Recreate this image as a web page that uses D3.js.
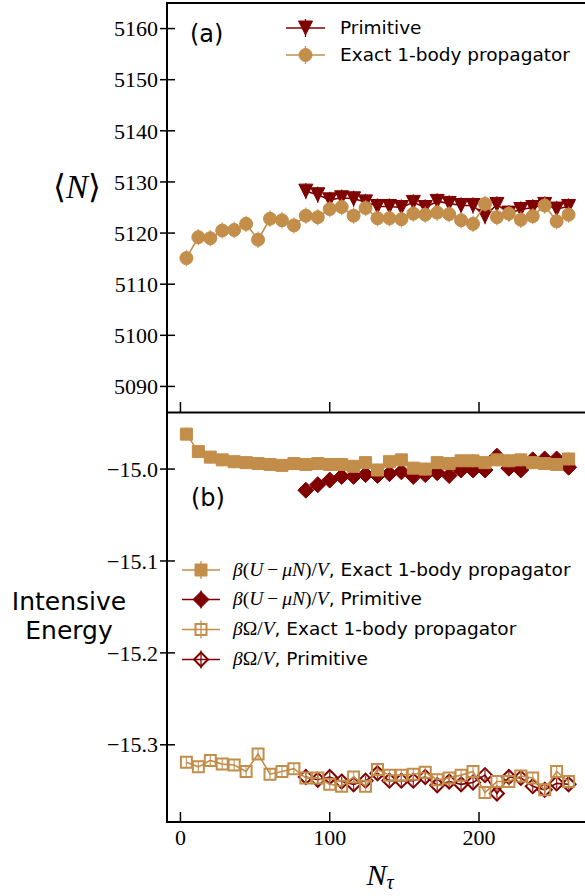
<!DOCTYPE html>
<html><head><meta charset="utf-8">
<script src="https://cdn.jsdelivr.net/npm/d3@7/dist/d3.min.js"></script>
<style>body{margin:0;background:#fff}svg{display:block}</style>
</head><body>
<script>
// ---------- data ----------
const nTauExact = [4,12,20,28,36,44,52,60,68,76,84,92,100,108,116,124,132,140,148,156,164,172,180,188,196,204,212,220,228,236,244,252,260];
const nTauPrim = [84,92,100,108,116,124,132,140,148,156,164,172,180,188,196,204,212,220,228,236,244,252,260];
const nExact = [5115.1,5119.2,5119.0,5120.5,5120.6,5121.8,5118.7,5122.8,5122.5,5121.5,5123.4,5123.1,5124.7,5125.1,5123.4,5124.9,5122.9,5122.9,5122.7,5123.8,5123.6,5124.0,5123.7,5122.5,5121.8,5125.7,5123.1,5123.8,5122.6,5123.3,5125.4,5122.3,5123.6];
const nPrim = [5128.2,5127.5,5126.5,5126.9,5126.7,5126.1,5125.2,5125.2,5125.0,5126.0,5125.0,5126.2,5125.8,5125.4,5125.4,5123.3,5125.6,5123.9,5124.6,5125.0,5125.6,5124.7,5125.2];
const uExact = [-14.962,-14.981,-14.987,-14.990,-14.992,-14.993,-14.994,-14.995,-14.996,-14.994,-14.995,-14.994,-14.995,-14.995,-14.997,-14.993,-15.001,-14.992,-14.990,-14.999,-15.000,-14.993,-14.994,-14.991,-14.991,-14.993,-14.990,-14.991,-14.990,-14.993,-14.994,-14.995,-14.989];
const uPrim = [-15.023,-15.017,-15.012,-15.008,-15.008,-15.006,-15.007,-15.005,-15.003,-15.008,-15.006,-15.004,-15.007,-15.001,-15.001,-15.001,-14.986,-14.999,-15.001,-14.990,-14.989,-14.989,-14.998];
const omExact = [-15.319,-15.324,-15.317,-15.321,-15.322,-15.329,-15.310,-15.332,-15.329,-15.326,-15.336,-15.336,-15.343,-15.345,-15.335,-15.345,-15.327,-15.333,-15.333,-15.332,-15.330,-15.338,-15.336,-15.333,-15.329,-15.352,-15.340,-15.340,-15.334,-15.336,-15.349,-15.329,-15.340];
const omPrim = [-15.335,-15.338,-15.335,-15.340,-15.343,-15.339,-15.331,-15.339,-15.339,-15.339,-15.335,-15.344,-15.340,-15.343,-15.341,-15.333,-15.353,-15.335,-15.336,-15.345,-15.349,-15.342,-15.343];
const errN = 1.6;      // estimated statistical error on <N>
const errE = 0.007;    // estimated statistical error on energies
const xTicks = [0,100,200];
const yTicksTop = [5090,5100,5110,5120,5130,5140,5150,5160];
const yTicksBot = [-15.3,-15.2,-15.1,-15.0];

// ---------- layout ----------
const W = 585, H = 896;
const TAN = "#c38d4a", RED = "#800000";
const L = 167, R = 585;
const svg = d3.select("body").append("svg").attr("width", W).attr("height", H);

const x = d3.scaleLinear().domain([-9, 271]).range([L, R]);
const yT = d3.scaleLinear().domain([5085, 5165]).range([412, 3]);
const yB = d3.scaleLinear().domain([-15.384, -14.939]).range([822, 413]);

function markerPath(type, s) {
  const h = s / 2;
  if (type === "tri") return `M${-h},${-h}L${h},${-h}L0,${h}Z`;
  if (type === "sq") return `M${-h},${-h}H${h}V${h}H${-h}Z`;
  if (type === "dia") return `M0,${-h}L${h},0L0,${h}L${-h},0Z`;
  return null;
}
function drawMarker(g, type, cx, cy, s, color, filled) {
  if (type === "circ") {
    g.append("circle").attr("cx", cx).attr("cy", cy).attr("r", s / 2)
      .attr("fill", color).attr("stroke", color).attr("stroke-width", 1);
  } else {
    g.append("path").attr("d", markerPath(type, s)).attr("transform", `translate(${cx},${cy})`)
      .attr("fill", filled ? color : "none").attr("stroke", color)
      .attr("stroke-width", filled ? 1 : 2).attr("stroke-linejoin", "miter");
  }
}
function series(g, xs, ys, yScale, err, type, s, color, filled) {
  const pts = xs.map((v, i) => [x(v), yScale(ys[i])]);
  g.append("path").attr("d", d3.line()(pts)).attr("fill", "none")
    .attr("stroke", color).attr("stroke-width", 1.6);
  xs.forEach((v, i) => {
    g.append("line").attr("x1", x(v)).attr("x2", x(v))
      .attr("y1", yScale(ys[i] - err)).attr("y2", yScale(ys[i] + err))
      .attr("stroke", color).attr("stroke-width", 1.3).attr("opacity", 0.8);
  });
  xs.forEach((v, i) => drawMarker(g, type, x(v), yScale(ys[i]), s, color, filled));
}

// ---------- top panel ----------
const gT = svg.append("g");
gT.append("defs").append("clipPath").attr("id", "cT").append("rect")
  .attr("x", L).attr("y", 3).attr("width", R - L).attr("height", 409);
const plotT = gT.append("g").attr("clip-path", "url(#cT)");
series(plotT, nTauPrim, nPrim, yT, errN, "tri", 14, RED, true);
series(plotT, nTauExact, nExact, yT, errN, "circ", 13, TAN, true);

// ---------- bottom panel ----------
const gB = svg.append("g");
gB.append("defs").append("clipPath").attr("id", "cB").append("rect")
  .attr("x", L).attr("y", 413).attr("width", R - L).attr("height", 409);
const plotB = gB.append("g").attr("clip-path", "url(#cB)");
series(plotB, nTauPrim, uPrim, yB, errE, "dia", 16, RED, true);
series(plotB, nTauExact, uExact, yB, errE, "sq", 12, TAN, true);
series(plotB, nTauPrim, omPrim, yB, errE * 0.8, "dia", 14, RED, false);
series(plotB, nTauExact, omExact, yB, errE * 0.8, "sq", 11, TAN, false);

// ---------- axes ----------
const axG = svg.append("g").attr("stroke", "#000").attr("stroke-width", 2);
axG.append("line").attr("x1", L).attr("x2", L).attr("y1", 2).attr("y2", 823);
axG.append("line").attr("x1", L - 1).attr("x2", W + 2).attr("y1", 3).attr("y2", 3);
axG.append("line").attr("x1", L - 1).attr("x2", W + 2).attr("y1", 412.5).attr("y2", 412.5);
axG.append("line").attr("x1", L - 1).attr("x2", W + 2).attr("y1", 822).attr("y2", 822);

const tickG = svg.append("g").attr("stroke", "#000").attr("stroke-width", 1.5);
const serif = "Liberation Serif, Times New Roman, serif";
const sans = "DejaVu Sans, sans-serif";
yTicksTop.forEach(v => {
  tickG.append("line").attr("x1", L - 7).attr("x2", L + 8).attr("y1", yT(v)).attr("y2", yT(v));
  svg.append("text").attr("x", 158).attr("y", yT(v)).attr("dy", "0.35em")
    .attr("text-anchor", "end").attr("font-family", serif).attr("font-size", 22).text(v);
});
yTicksBot.forEach(v => {
  tickG.append("line").attr("x1", L - 7).attr("x2", L + 8).attr("y1", yB(v)).attr("y2", yB(v));
  svg.append("text").attr("x", 158).attr("y", yB(v)).attr("dy", "0.35em")
    .attr("text-anchor", "end").attr("font-family", serif).attr("font-size", 22)
    .text(d3.format(".1f")(v).replace("-", "\u2212"));
});
xTicks.forEach(v => {
  tickG.append("line").attr("x1", x(v)).attr("x2", x(v)).attr("y1", 412).attr("y2", 402);
  tickG.append("line").attr("x1", x(v)).attr("x2", x(v)).attr("y1", 822).attr("y2", 812);
  svg.append("text").attr("x", x(v)).attr("y", 845).attr("text-anchor", "middle")
    .attr("font-family", serif).attr("font-size", 22).text(v);
});

// ---------- labels ----------
svg.append("text").attr("x", 77).attr("y", 198).attr("text-anchor", "middle")
  .attr("font-family", serif).attr("font-size", 33)
  .html('\u27E8<tspan font-style="italic">N</tspan>\u27E9');
const ie = svg.append("text").attr("text-anchor", "middle").attr("font-family", sans).attr("font-size", 25);
ie.append("tspan").attr("x", 69).attr("y", 610).text("Intensive");
ie.append("tspan").attr("x", 69).attr("y", 639).text("Energy");
const xl = svg.append("text").attr("x", 380).attr("y", 885).attr("text-anchor", "middle")
  .attr("font-family", serif).attr("font-size", 30).attr("font-style", "italic");
xl.append("tspan").text("N");
xl.append("tspan").attr("font-size", 20).attr("dy", 4).text("\u03C4");

svg.append("text").attr("x", 190).attr("y", 42).attr("font-family", sans).attr("font-size", 24).text("(a)");
svg.append("text").attr("x", 191).attr("y", 506).attr("font-family", sans).attr("font-size", 24).text("(b)");

// ---------- legends ----------
function legendRow(x0, x1, cy, type, s, color, filled) {
  const g = svg.append("g");
  g.append("line").attr("x1", x0).attr("x2", x1).attr("y1", cy).attr("y2", cy)
    .attr("stroke", color).attr("stroke-width", 1.6);
  const cx = (x0 + x1) / 2;
  g.append("line").attr("x1", cx).attr("x2", cx).attr("y1", cy - 9).attr("y2", cy + 9)
    .attr("stroke", color).attr("stroke-width", 1.3);
  drawMarker(g, type, cx, cy, s, color, filled);
}
legendRow(286, 325, 28, "tri", 14, RED, true);
legendRow(286, 325, 55, "circ", 13, TAN, true);
svg.append("text").attr("x", 340).attr("y", 28).attr("dy", "0.35em").attr("font-family", sans).attr("font-size", 18.5).text("Primitive");
svg.append("text").attr("x", 340).attr("y", 55).attr("dy", "0.35em").attr("font-family", sans).attr("font-size", 18.5).text("Exact 1-body propagator");

const legB = [
  {y: 570, type: "sq", s: 12, color: TAN, filled: true, math: "U", rest: ", Exact 1-body propagator"},
  {y: 599.5, type: "dia", s: 16, color: RED, filled: true, math: "U", rest: ", Primitive"},
  {y: 629.5, type: "sq", s: 11, color: TAN, filled: false, math: "O", rest: ", Exact 1-body propagator"},
  {y: 659.5, type: "dia", s: 14, color: RED, filled: false, math: "O", rest: ", Primitive"}
];
legB.forEach(d => {
  legendRow(182, 220, d.y, d.type, d.s, d.color, d.filled);
  const t = svg.append("text").attr("x", 233).attr("y", d.y).attr("dy", "0.35em");
  const m = t.append("tspan").attr("font-family", serif).attr("font-size", 19.5);
  if (d.math === "U") {
    m.append("tspan").attr("font-style", "italic").text("\u03B2");
    m.append("tspan").text("(");
    m.append("tspan").attr("font-style", "italic").text("U");
    m.append("tspan").text("\u2009\u2212\u2009");
    m.append("tspan").attr("font-style", "italic").text("\u03BCN");
    m.append("tspan").text(")/");
    m.append("tspan").attr("font-style", "italic").text("V");
  } else {
    m.append("tspan").attr("font-style", "italic").text("\u03B2");
    m.append("tspan").text("\u03A9/");
    m.append("tspan").attr("font-style", "italic").text("V");
  }
  t.append("tspan").attr("font-family", sans).attr("font-size", 18.5).text(d.rest);
});
</script>
</body></html>
